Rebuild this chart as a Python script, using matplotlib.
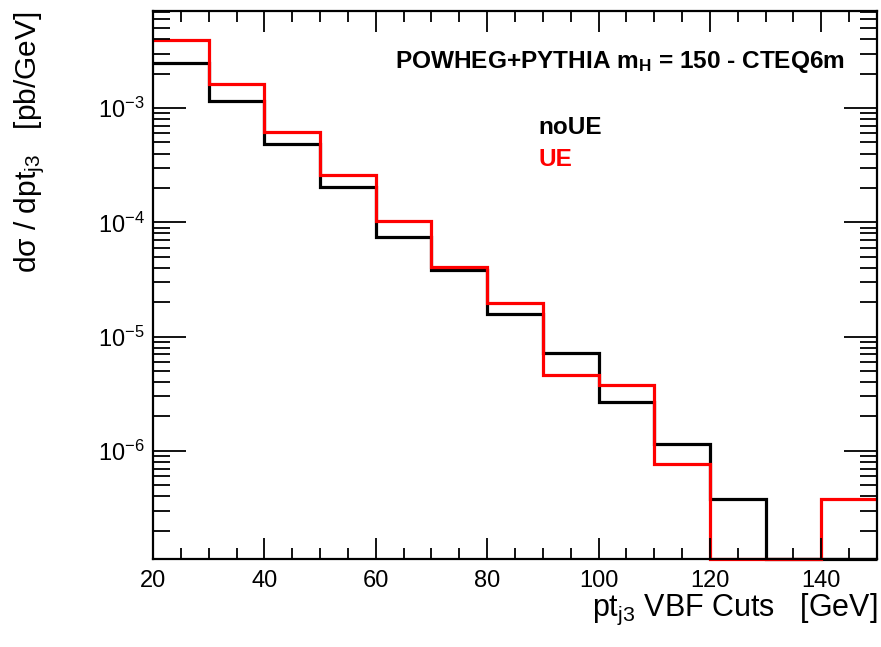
import numpy as np
import matplotlib
matplotlib.use('Agg')
import matplotlib.pyplot as plt
from matplotlib.ticker import LogLocator, MultipleLocator, NullFormatter

plt.rcParams['font.family'] = ['Liberation Sans', 'DejaVu Sans']
plt.rcParams['mathtext.fontset'] = 'custom'
plt.rcParams['mathtext.rm'] = 'Liberation Sans'
plt.rcParams['mathtext.it'] = 'Liberation Sans:italic'
plt.rcParams['mathtext.bf'] = 'Liberation Sans:bold'
plt.rcParams['axes.unicode_minus'] = False

# bin edges in pt_j3 [GeV]
edges = [20, 30, 40, 50, 60, 70, 80, 90, 100, 110, 120, 130, 140, 150]
# dsigma/dpt [pb/GeV]
noUE = [2.46e-3, 1.16e-3, 4.84e-4, 2.02e-4, 7.4e-5, 3.8e-5, 1.59e-5,
        7.2e-6, 2.65e-6, 1.14e-6, 3.8e-7, 0.0, 0.0]
UE = [3.94e-3, 1.62e-3, 6.2e-4, 2.6e-4, 1.03e-4, 4.1e-5, 1.97e-5,
      4.6e-6, 3.8e-6, 7.6e-7, 0.0, 0.0, 3.8e-7]

ymin, ymax = 1.13e-7, 7.08e-3

fig = plt.figure(figsize=(8.81, 6.47), dpi=100)
ax = fig.add_axes([153/881, 1-559/647, 724/881, 548/647])

# empty bins drawn on the frame bottom, as ROOT does
ax.stairs(np.where(np.array(noUE) > 0, noUE, ymin), edges, baseline=None,
          color='black', lw=2.3, clip_on=False)
ax.stairs(np.where(np.array(UE) > 0, UE, ymin), edges, baseline=None,
          color='red', lw=2.3, clip_on=False)

ax.set_yscale('log')
ax.set_xlim(20, 150)
ax.set_ylim(ymin, ymax)

ax.xaxis.set_major_locator(MultipleLocator(20))
ax.xaxis.set_minor_locator(MultipleLocator(5))
ax.yaxis.set_major_locator(LogLocator(base=10, numticks=20))
ax.yaxis.set_minor_locator(LogLocator(base=10, subs=np.arange(2, 10), numticks=20))
ax.yaxis.set_minor_formatter(NullFormatter())

ax.tick_params(which='both', direction='in', top=True, right=True, width=1.3)
ax.tick_params(axis='x', which='major', length=15, labelsize=17, pad=8)
ax.tick_params(axis='x', which='minor', length=8)
ax.tick_params(axis='y', which='major', length=24, labelsize=17, pad=6)
ax.tick_params(axis='y', which='minor', length=12)
for s in ax.spines.values():
    s.set_linewidth(1.6)

fig.text(877/881, 1-609/647, r'pt$_{\rm j3}$ VBF Cuts   [GeV]', ha='right', va='center', fontsize=22)
fig.text(30/881, 1-12/647, r'dσ / dpt$_{\rm j3}$   [pb/GeV]', rotation=90,
         ha='center', va='top', fontsize=21.5)

ax.text(395/881, 1-62/647, r'POWHEG+PYTHIA $\mathbf{m_H}$ = 150 - CTEQ6m', transform=fig.transFigure,
        ha='left', va='center', fontsize=17.6, fontweight='bold')
ax.text(538/881, 1-127/647, 'noUE', transform=fig.transFigure, ha='left', va='center',
        fontsize=17.5, fontweight='bold', color='black')
ax.text(538/881, 1-160/647, 'UE', transform=fig.transFigure, ha='left', va='center',
        fontsize=17.5, fontweight='bold', color='red')

fig.savefig('out.png', dpi=100)
